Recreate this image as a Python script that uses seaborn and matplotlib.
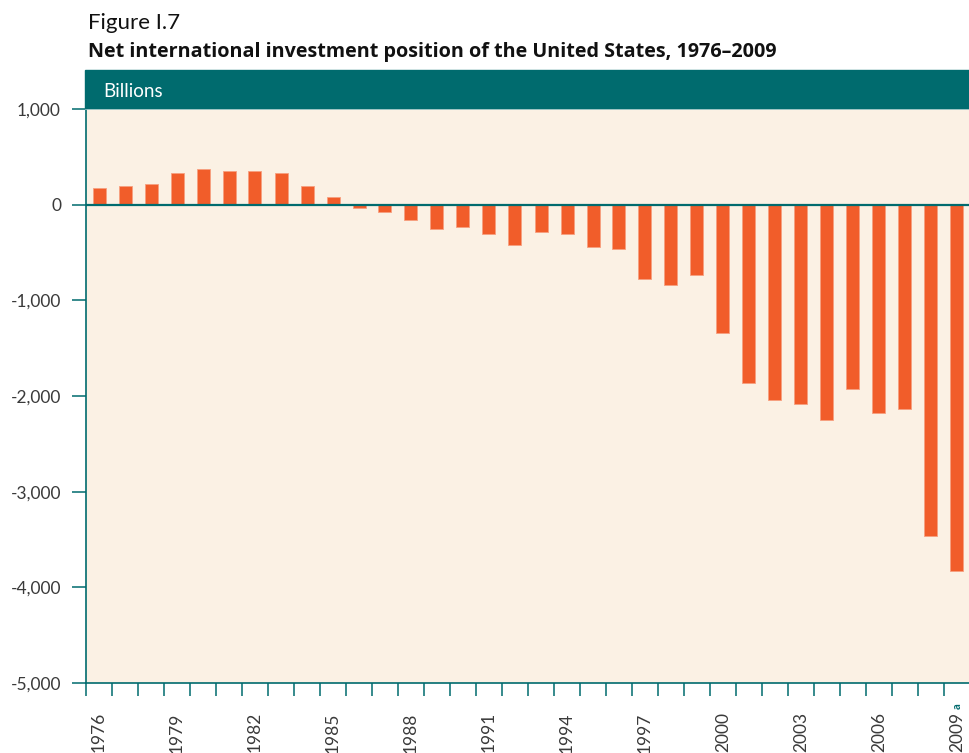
import matplotlib
matplotlib.use("Agg")
import matplotlib.pyplot as plt
import seaborn as sns
import pandas as pd
from matplotlib.patches import Rectangle
from matplotlib.ticker import FixedLocator, FuncFormatter

years = [str(y) for y in range(1976, 2010)]
values = [175, 195, 216, 331, 373, 352, 352, 331, 195, 80,
          -31, -73, -163, -258, -237, -303, -418, -282, -306, -442,
          -459, -777, -843, -732, -1341, -1860, -2041, -2087, -2247, -1926,
          -2177, -2132, -3466, -3826]
label_years = ["1976", "1979", "1982", "1985", "1988", "1991", "1994",
               "1997", "2000", "2003", "2006", "2009"]
y_ticks = [1000, 0, -1000, -2000, -3000, -4000, -5000]

title1 = "Figure I.7"
title2 = "Net international investment position of the United States, 1976\u20132009"
unit = "Billions"

TEAL = "#006B6E"
ORANGE = "#F15D2A"
CREAM = "#FBF1E4"
GRAY = "#3A3A3A"

sns.set_theme(style="white")
plt.rcParams['font.family'] = ['Lato', 'DejaVu Sans']

df = pd.DataFrame({"year": years, "value": values})

fig = plt.figure(figsize=(9.7, 7.53), dpi=100)
ax = fig.add_axes([86/970, 70/753, 1 - 86/970, (683-109)/753])
ax.set_facecolor(CREAM)

sns.barplot(data=df, x="year", y="value", color=ORANGE, width=0.5,
            saturation=1, edgecolor="#F7A07F", linewidth=0.6, ax=ax, zorder=2)

ax.set_xlim(-0.5, len(years) - 0.5)
ax.set_ylim(-5000, 1000)
ax.axhline(0, color=TEAL, lw=1.6, zorder=3)

# y axis
ax.set_yticks(y_ticks)
ax.yaxis.set_major_formatter(FuncFormatter(lambda v, p: f"{int(v):,}"))
ax.tick_params(axis="y", direction="out", length=10, width=1.1, color=TEAL,
               pad=8, labelsize=12.5, labelcolor=GRAY, left=True)

# x axis
pos = [years.index(y) for y in label_years]
ax.set_xticks(pos)
ax.set_xticklabels(label_years, rotation=90, va="top", ha="center")
ax.xaxis.set_minor_locator(FixedLocator([i - 0.5 for i in range(len(years) + 1)]))
ax.tick_params(axis="x", which="major", length=0, pad=21, labelsize=12.5,
               labelcolor=GRAY, bottom=True)
ax.tick_params(axis="x", which="minor", direction="out", length=9, width=1.1,
               color=TEAL, bottom=True)
ax.set_xlabel("")
ax.set_ylabel("")

for s in ["left", "bottom"]:
    ax.spines[s].set_color(TEAL)
    ax.spines[s].set_linewidth(1.2)
ax.spines["right"].set_visible(False)
ax.spines["top"].set_color("#B8D6D6")
ax.spines["top"].set_linewidth(1.2)

# header band
fig.patches.append(Rectangle((85/970, 1 - 107.5/753), 1 - 85/970, 37.5/753,
                             transform=fig.transFigure, color=TEAL, zorder=0))
fig.text(103/970, 1 - 97.3/753, unit, color="white", fontsize=13.5,
         va="baseline", ha="left")

fig.text(88/970, 1 - 29.3/753, title1, color="#111111", fontsize=16,
         va="baseline", ha="left")
fig.text(88/970, 1 - 57/753, title2, color="#111111", fontsize=14.25,
         fontweight="bold", va="baseline", ha="left",
         family=["Open Sans", "DejaVu Sans"])

fig.text(956.7/970, 1 - 705.7/753, "a", color=TEAL, fontsize=8,
         fontweight="bold", rotation=90, ha="center", va="center")

fig.savefig("out.png", dpi=100)
